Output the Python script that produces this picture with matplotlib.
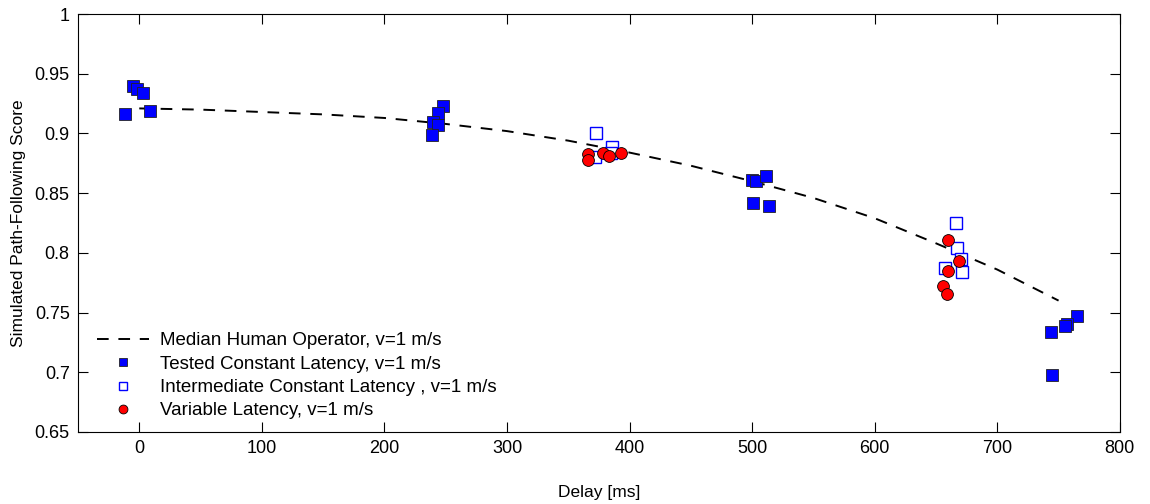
import numpy as np
import matplotlib.pyplot as plt

plt.rcParams['font.family'] = ['Liberation Sans', 'DejaVu Sans']

# median human operator curve
median_delay = [0, 50, 100, 150, 200, 250, 300, 350, 400, 450, 500, 550, 600, 650, 700, 750]
median_score = [0.921, 0.920, 0.918, 0.916, 0.913, 0.908, 0.902, 0.894, 0.884, 0.873,
                0.860, 0.846, 0.829, 0.808, 0.786, 0.760]

# tested constant latency
tested_delay = [-12, -5, -2, 3, 9,
                248, 244, 240, 244, 239,
                500, 503, 511, 501, 514,
                765, 757, 755, 744, 745]
tested_score = [0.916, 0.940, 0.937, 0.934, 0.919,
                0.923, 0.917, 0.910, 0.907, 0.899,
                0.861, 0.860, 0.864, 0.842, 0.839,
                0.747, 0.740, 0.739, 0.734, 0.698]

# intermediate constant latency
inter_delay = [373, 386, 372, 385, 666, 667, 670, 657, 671]
inter_score = [0.900, 0.889, 0.880, 0.884, 0.825, 0.804, 0.795, 0.787, 0.784]

# variable latency
var_delay = [366, 366, 378, 383, 393, 660, 669, 660, 656, 659]
var_score = [0.8825, 0.8777, 0.8833, 0.881, 0.8833, 0.811, 0.793, 0.785, 0.772, 0.7655]

fig = plt.figure(figsize=(11.5, 5.04), dpi=100)
ax = fig.add_axes([0.0678, 0.143, 0.906, 0.829])

ax.plot(median_delay, median_score, color='black', linestyle=(0, (6, 5)), lw=1.4,
        label='Median Human Operator, v=1 m/s')
ax.plot(tested_delay, tested_score, 's', color='#0000ff', mec='#222222', mew=0.6, ms=8.5,
        label='Tested Constant Latency, v=1 m/s')
ax.plot(inter_delay, inter_score, 's', mfc='white', mec='#0000ff', mew=1.0, ms=8.5,
        label='Intermediate Constant Latency , v=1 m/s')
ax.plot(var_delay, var_score, 'o', color='#ff0000', mec='black', mew=0.6, ms=8.5,
        label='Variable Latency, v=1 m/s')

ax.set_xlim(-50, 800)
ax.set_ylim(0.65, 1.0)
ax.set_xticks(np.arange(0, 801, 100))
ax.set_yticks(np.arange(0.65, 1.001, 0.05))
ax.set_yticklabels(['0.65', '0.7', '0.75', '0.8', '0.85', '0.9', '0.95', '1'])
ax.tick_params(direction='in', top=True, right=True, length=7, labelsize=13, pad=6)
ax.set_xlabel('Delay [ms]', fontsize=12.5, labelpad=20)
ax.set_ylabel('Simulated Path-Following Score', fontsize=12.5, labelpad=6)

ax.legend(loc='lower left', bbox_to_anchor=(0.018, 0.03), frameon=False, fontsize=13.5,
          markerscale=0.75, handlelength=2.8, handletextpad=0.55, labelspacing=0.33,
          borderpad=0, borderaxespad=0)

fig.savefig('out.png', dpi=100)
